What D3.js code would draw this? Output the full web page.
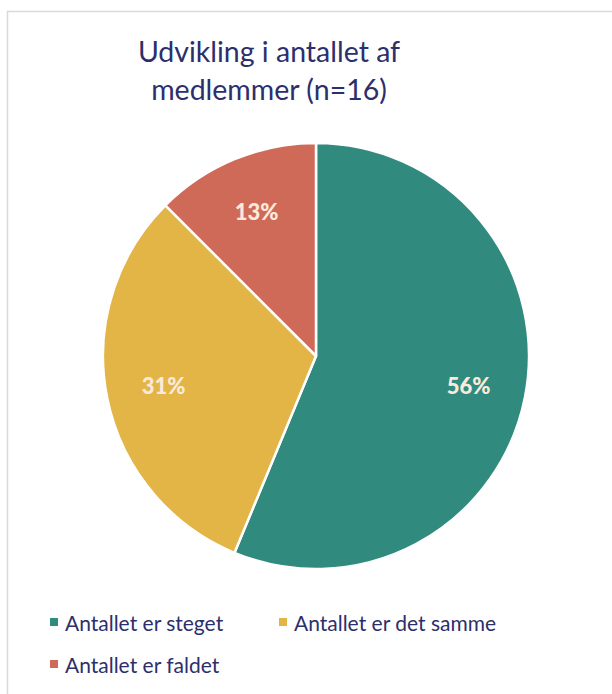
<!DOCTYPE html>
<html>
<head>
<meta charset="utf-8">
<script src="https://cdn.jsdelivr.net/npm/d3@7"></script>
<style>
  html, body { margin: 0; padding: 0; background: #fff; }
  svg { display: block; }
</style>
</head>
<body>
<svg id="chart" width="612" height="694"></svg>
<script>
const categories = ["Antallet er steget", "Antallet er det samme", "Antallet er faldet"];
const values = [9, 5, 2];
const labels = ["56%", "31%", "13%"];
const colors = ["#308b7e", "#e3b446", "#d06a58"];
const titleLines = ["Udvikling i antallet af", "medlemmer (n=16)"];

const svg = d3.select("#chart");
const textColor = "#2c2f6b";
const font = "Lato, 'Noto Sans', sans-serif";

// outer chart border
svg.append("rect")
  .attr("x", 7.5).attr("y", 11.5)
  .attr("width", 640).attr("height", 720)
  .attr("fill", "#fff").attr("stroke", "#d9d9d9").attr("stroke-width", 1.5);

// title
svg.append("g").selectAll("text").data(titleLines).join("text")
  .attr("x", 269).attr("y", (d, i) => 62 + i * 38)
  .attr("text-anchor", "middle")
  .attr("font-family", font).attr("font-size", 28.5).attr("font-weight", 400)
  .attr("fill", textColor)
  .text(d => d);

// pie
const cx = 316, cy = 356, r = 213;
const pie = d3.pie().sort(null).value(d => d)(values);
const arc = d3.arc().innerRadius(0).outerRadius(r);
const labelArc = d3.arc().innerRadius(r * 0.73).outerRadius(r * 0.73);
const g = svg.append("g").attr("transform", `translate(${cx},${cy})`);
g.selectAll("path").data(pie).join("path")
  .attr("d", arc)
  .attr("fill", (d, i) => colors[i])
  .attr("stroke", "#fff").attr("stroke-width", 2.5)
  .attr("stroke-linejoin", "round");
g.selectAll("text").data(pie).join("text")
  .attr("transform", d => `translate(${labelArc.centroid(d)})`)
  .attr("text-anchor", "middle").attr("dy", "0.36em")
  .attr("font-family", font).attr("font-weight", 900).attr("font-size", 22)
  .attr("fill", "#fbeadb")
  .text((d, i) => labels[i]);

// legend
const legPos = [[50, 631], [279, 631], [50, 673]];
const leg = svg.append("g").selectAll("g").data(categories).join("g")
  .attr("transform", (d, i) => `translate(${legPos[i][0]},${legPos[i][1]})`);
leg.append("rect").attr("x", 0).attr("y", -13).attr("width", 8).attr("height", 8)
  .attr("fill", (d, i) => colors[i]);
leg.append("text").attr("x", 15).attr("y", 0)
  .attr("font-family", font).attr("font-size", 21).attr("font-weight", 400)
  .attr("fill", textColor)
  .text(d => d);
</script>
</body>
</html>
